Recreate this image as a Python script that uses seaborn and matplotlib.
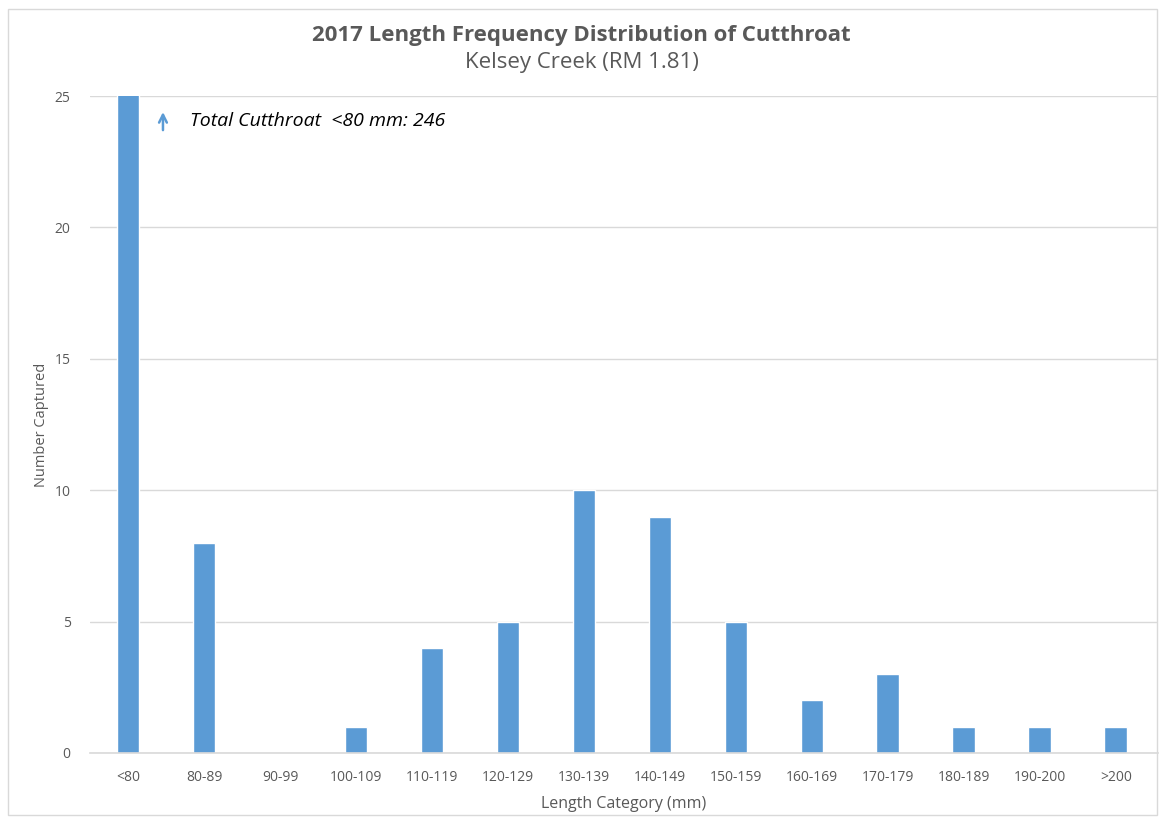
import matplotlib
matplotlib.use("Agg")
import matplotlib.pyplot as plt
import matplotlib.patches as mpatches
import seaborn as sns
import pandas as pd

categories = ["<80", "80-89", "90-99", "100-109", "110-119", "120-129", "130-139",
              "140-149", "150-159", "160-169", "170-179", "180-189", "190-200", ">200"]
counts = [246, 8, 0, 1, 4, 5, 10, 9, 5, 2, 3, 1, 1, 1]
y_ticks = [0, 5, 10, 15, 20, 25]

sns.set_theme(style="white")
plt.rcParams['font.family'] = ['Open Sans', 'DejaVu Sans']

df = pd.DataFrame({"cat": categories, "n": counts})
grey = "#595959"

fig = plt.figure(figsize=(11.63, 8.18), dpi=100)
ax = fig.add_axes([0.0774, 0.0795, 0.918, 0.803])

sns.barplot(data=df, x="cat", y="n", color="#5B9BD5", width=0.3, saturation=1, ax=ax)

ax.set_ylim(0, 25)
ax.set_yticks(y_ticks)
ax.set_xlim(-0.5, len(categories) - 0.45)
ax.yaxis.grid(True, color="#D9D9D9", linewidth=1)
ax.set_axisbelow(True)
for s in ["top", "right", "left"]:
    ax.spines[s].set_visible(False)
ax.spines["bottom"].set_color("#D9D9D9")
ax.spines["bottom"].set_linewidth(1.2)
ax.tick_params(axis="both", colors=grey, labelsize=10, length=0, pad=12)
ax.tick_params(axis="y", pad=14)
ax.set_xlabel("Length Category (mm)", color=grey, fontsize=11.5, labelpad=8)
ax.set_ylabel("Number Captured", color=grey, fontsize=10.5, labelpad=4)

fig.text(0.5, 0.957, "2017 Length Frequency Distribution of Cutthroat", ha="center", va="center",
         fontsize=16, fontweight="bold", color=grey)
fig.text(0.5, 0.923, "Kelsey Creek (RM 1.81)", ha="center", va="center", fontsize=16, color=grey)

ax.annotate("", xy=(0.46, 24.5), xytext=(0.46, 23.6),
            arrowprops=dict(arrowstyle="->", color="#5B9BD5", lw=1.8, mutation_scale=14))
ax.text(0.81, 24.05, "Total Cutthroat  <80 mm: 246", fontsize=14, style="italic",
        color="black", va="center")

fig.patches.append(mpatches.Rectangle((0.007, 0.004), 0.988, 0.985, transform=fig.transFigure,
                                      fill=False, edgecolor="#D9D9D9", linewidth=1))

fig.savefig("out.png", dpi=100)
